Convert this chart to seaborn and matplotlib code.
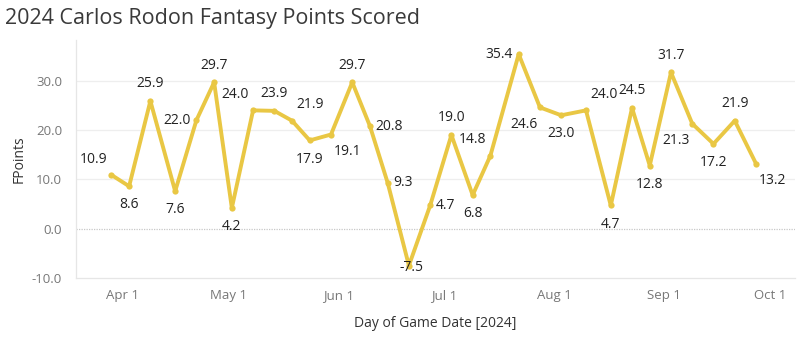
import matplotlib
matplotlib.use("Agg")
import matplotlib.pyplot as plt
import matplotlib.dates as mdates
import seaborn as sns
import pandas as pd

# ---- data ----
game_dates = ["2024-03-29", "2024-04-03", "2024-04-09", "2024-04-16", "2024-04-22",
              "2024-04-27", "2024-05-02", "2024-05-08", "2024-05-14", "2024-05-19",
              "2024-05-24", "2024-05-30", "2024-06-05", "2024-06-10", "2024-06-15",
              "2024-06-21", "2024-06-27", "2024-07-03", "2024-07-09", "2024-07-14",
              "2024-07-22", "2024-07-28", "2024-08-03", "2024-08-10", "2024-08-17",
              "2024-08-23", "2024-08-28", "2024-09-03", "2024-09-09", "2024-09-15",
              "2024-09-21", "2024-09-27"]
fpoints = [10.9, 8.6, 25.9, 7.6, 22.0, 29.7, 4.2, 24.0, 23.9, 21.9, 17.9, 19.1,
           29.7, 20.8, 9.3, -7.5, 4.7, 19.0, 6.8, 14.8, 35.4, 24.6, 23.0, 24.0,
           4.7, 24.5, 12.8, 31.7, 21.3, 17.2, 21.9, 13.2]
y_ticks = [-10, 0, 10, 20, 30]
x_ticks = ["2024-04-01", "2024-05-01", "2024-06-01", "2024-07-01", "2024-08-01",
           "2024-09-01", "2024-10-01"]

# label placement (style only)
placement = ["ul", "b", "a", "b", "l", "a", "b", "ul", "a", "ur", "b", "br",
             "a", "r", "r", "c", "r", "a", "b", "ul", "l", "bl", "b", "ur",
             "b", "a", "b", "a", "bl", "b", "a", "br"]

df = pd.DataFrame({"date": pd.to_datetime(game_dates), "FPoints": fpoints})

sns.set_theme(style="white")
plt.rcParams["font.family"] = ["Open Sans", "DejaVu Sans"]

fig = plt.figure(figsize=(8.12, 3.41), dpi=100)
ax = fig.add_axes([0.0936, 0.185, 0.8854, 0.698])

color = "#E9C744"
sns.lineplot(data=df, x="date", y="FPoints", ax=ax, color=color, linewidth=2.8,
             marker="o", markersize=4.5, markeredgewidth=0, zorder=3)

offsets = {"a": (0, 7, "center", "bottom"), "b": (0, -8, "center", "top"),
           "l": (-4, 0, "right", "center"), "r": (4, 0, "left", "center"),
           "ul": (-3, 6, "right", "bottom"), "ur": (3, 6, "left", "bottom"),
           "bl": (-2, -7, "right", "top"), "br": (2, -7, "left", "top"),
           "c": (2, -1.5, "center", "center")}
for d, v, p in zip(df["date"], df["FPoints"], placement):
    dx, dy, ha, va = offsets[p]
    ax.annotate(f"{v:.1f}", (d, v), xytext=(dx, dy), textcoords="offset points",
                ha=ha, va=va, fontsize=10, color="#222222", zorder=4)

ax.set_ylim(-10, 38.3)
ax.set_xlim(pd.Timestamp("2024-03-19"), pd.Timestamp("2024-10-08"))
ax.set_yticks(y_ticks)
ax.set_yticklabels([f"{t:.1f}" for t in y_ticks])
ax.set_xticks(pd.to_datetime(x_ticks))
ax.xaxis.set_major_formatter(mdates.DateFormatter("%b %-d"))
ax.tick_params(axis="both", colors="#777777", labelsize=9.5, length=0, pad=10)
ax.tick_params(axis="x", pad=8)

for t in [10, 20, 30]:
    ax.axhline(t, color="#EEEEEE", linewidth=0.9, zorder=1)
ax.axhline(0, color="#C8C8C8", linewidth=0.9, linestyle=(0, (1, 1)), zorder=1)

for s in ["top", "right"]:
    ax.spines[s].set_visible(False)
ax.spines["left"].set_color("#E6E6E6")
ax.spines["bottom"].set_color("#E6E6E6")
ax.spines["left"].set_linewidth(0.9)
ax.spines["bottom"].set_linewidth(0.9)

ax.set_ylabel("FPoints", fontsize=10, color="#333333", labelpad=4)
ax.set_xlabel("Day of Game Date [2024]", fontsize=10, color="#333333", labelpad=10)

fig.text(0.006, 0.945, "2024 Carlos Rodon Fantasy Points Scored", fontsize=15.5,
         color="#3a3a3a", ha="left", va="center")

fig.savefig("out.png", dpi=100)
